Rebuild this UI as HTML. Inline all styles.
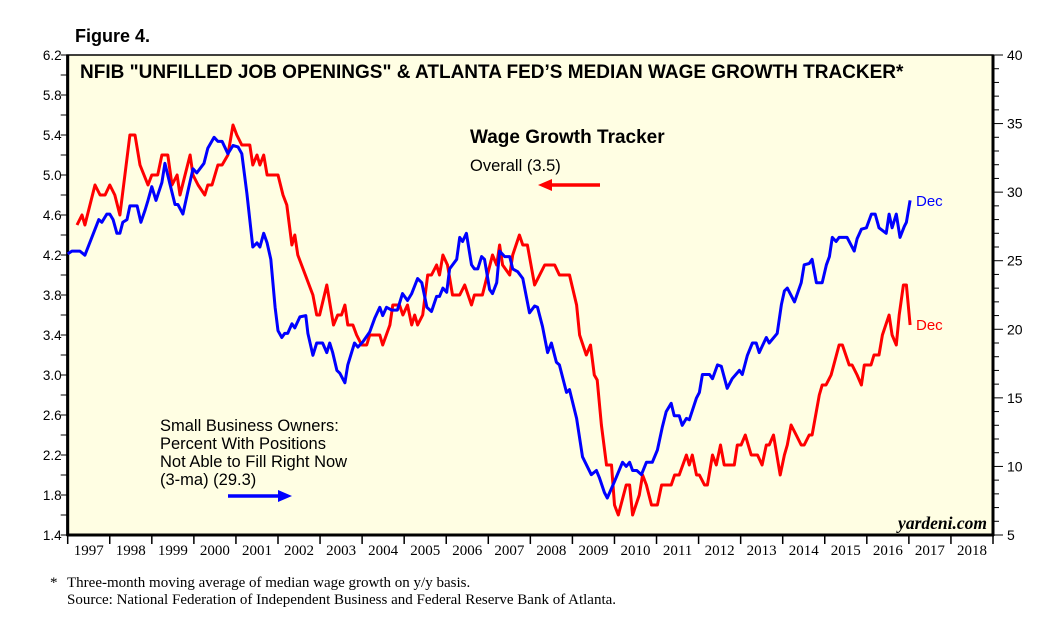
<!DOCTYPE html>
<html><head><meta charset="utf-8"><style>
body{margin:0;background:#fff;}
svg{display:block;}
</style></head><body>
<svg id="chart" width="1049" height="625" xmlns="http://www.w3.org/2000/svg">
<text x="75" y="42" font-family="Liberation Sans, sans-serif" font-weight="bold" font-size="18">Figure 4.</text>
<rect x="67" y="55" width="926" height="480" fill="#fffee3" stroke="#000" stroke-width="1.5"/>
<g id="axes"></g>
<g id="series"></g>
<text x="80" y="78" font-family="Liberation Sans, sans-serif" font-weight="bold" font-size="19">NFIB "UNFILLED JOB OPENINGS" &amp; ATLANTA FED’S MEDIAN WAGE GROWTH TRACKER*</text>
<text x="470" y="143" font-family="Liberation Sans, sans-serif" font-weight="bold" font-size="19">Wage Growth Tracker</text>
<text x="470" y="171" font-family="Liberation Sans, sans-serif" font-size="16.5">Overall (3.5)</text>
<g><line x1="600" y1="185" x2="548" y2="185" stroke="#f00" stroke-width="3.5"/><polygon points="538,185 552,179 552,191" fill="#f00"/></g>
<g font-family="Liberation Sans, sans-serif" font-size="16.5">
<text x="160" y="431">Small Business Owners:</text>
<text x="160" y="449">Percent With Positions</text>
<text x="160" y="467">Not Able to Fill Right Now</text>
<text x="160" y="485">(3-ma) (29.3)</text></g>
<g><line x1="228" y1="496" x2="282" y2="496" stroke="#00f" stroke-width="3.5"/><polygon points="292,496 278,490 278,502" fill="#00f"/></g>
<text x="916" y="206" fill="#00f" font-family="Liberation Sans, sans-serif" font-size="15">Dec</text>
<text x="916" y="330" fill="#f00" font-family="Liberation Sans, sans-serif" font-size="15">Dec</text>
<text x="987" y="529" text-anchor="end" font-family="Liberation Serif, serif" font-style="italic" font-weight="bold" font-size="17.5">yardeni.com</text>
<g font-family="Liberation Serif, serif" font-size="15">
<text x="50" y="587">*</text>
<text x="67" y="587">Three-month moving average of median wage growth on y/y basis.</text>
<text x="67" y="604">Source: National Federation of Independent Business and Federal Reserve Bank of Atlanta.</text></g>
</svg>
<script>
const years=[1997,1998,1999,2000,2001,2002,2003,2004,2005,2006,2007,2008,2009,2010,2011,2012,2013,2014,2015,2016,2017,2018];
const leftTicks=[1.4,1.8,2.2,2.6,3.0,3.4,3.8,4.2,4.6,5.0,5.4,5.8,6.2];
const rightTicks=[5,10,15,20,25,30,35,40];
const wageDates=[1997.22,1997.34,1997.41,1997.65,1997.77,1997.89,1998.00,1998.12,1998.24,1998.48,1998.60,1998.72,1998.91,1999.00,1999.14,1999.24,1999.38,1999.48,1999.60,1999.67,1999.91,1999.98,2000.10,2000.26,2000.33,2000.43,2000.57,2000.67,2000.81,2000.93,2001.02,2001.14,2001.33,2001.40,2001.50,2001.57,2001.66,2001.74,2002.00,2002.12,2002.21,2002.33,2002.40,2002.47,2002.83,2002.92,2002.99,2003.16,2003.32,2003.42,2003.51,2003.59,2003.66,2003.78,2003.87,2003.99,2004.11,2004.18,2004.42,2004.49,2004.66,2004.73,2004.89,2004.97,2005.08,2005.18,2005.25,2005.32,2005.44,2005.56,2005.65,2005.77,2005.84,2005.92,2006.03,2006.15,2006.32,2006.44,2006.60,2006.67,2006.86,2006.98,2007.10,2007.20,2007.27,2007.34,2007.51,2007.58,2007.74,2007.82,2007.93,2008.10,2008.34,2008.58,2008.69,2008.93,2009.10,2009.17,2009.33,2009.43,2009.52,2009.59,2009.69,2009.81,2009.93,2010.00,2010.09,2010.28,2010.36,2010.43,2010.59,2010.67,2010.76,2010.88,2011.02,2011.12,2011.35,2011.43,2011.54,2011.71,2011.78,2011.85,2011.95,2012.02,2012.14,2012.21,2012.33,2012.42,2012.52,2012.61,2012.85,2012.92,2013.01,2013.11,2013.25,2013.40,2013.51,2013.61,2013.68,2013.78,2013.94,2014.04,2014.11,2014.20,2014.32,2014.44,2014.51,2014.63,2014.70,2014.87,2014.94,2015.03,2015.15,2015.34,2015.42,2015.58,2015.65,2015.77,2015.87,2015.94,2016.10,2016.17,2016.29,2016.37,2016.53,2016.60,2016.70,2016.77,2016.87,2016.94,2017.03];
const wageValues=[4.5,4.6,4.5,4.9,4.8,4.8,4.9,4.8,4.6,5.4,5.4,5.1,4.9,5.0,5.0,5.2,5.2,4.9,5.0,4.8,5.2,5.0,4.9,4.8,4.9,4.9,5.1,5.1,5.2,5.5,5.4,5.3,5.3,5.1,5.2,5.1,5.2,5.0,5.0,4.8,4.7,4.3,4.4,4.2,3.8,3.6,3.6,3.9,3.5,3.6,3.6,3.7,3.5,3.5,3.4,3.3,3.3,3.4,3.4,3.3,3.5,3.7,3.7,3.6,3.7,3.5,3.6,3.5,3.6,4.0,4.0,4.1,4.0,4.2,4.1,3.8,3.8,3.9,3.7,3.8,3.8,4.0,4.2,4.1,4.3,4.1,4.0,4.2,4.4,4.3,4.3,3.9,4.1,4.1,4.0,4.0,3.7,3.4,3.2,3.3,3.0,2.95,2.5,2.1,2.1,1.7,1.6,1.9,1.9,1.6,1.8,2.0,1.9,1.7,1.7,1.9,1.9,2.0,2.0,2.2,2.1,2.2,2.0,2.0,1.9,1.9,2.2,2.1,2.3,2.1,2.1,2.3,2.3,2.4,2.2,2.2,2.1,2.3,2.3,2.4,2.0,2.2,2.3,2.5,2.4,2.3,2.3,2.4,2.4,2.8,2.9,2.9,3.0,3.3,3.3,3.1,3.1,3.0,2.9,3.1,3.1,3.2,3.2,3.4,3.6,3.4,3.3,3.6,3.9,3.9,3.5];
const nfibDates=[1997.00,1997.10,1997.29,1997.41,1997.60,1997.74,1997.81,1997.93,1998.00,1998.08,1998.17,1998.24,1998.31,1998.41,1998.48,1998.65,1998.74,1998.84,1998.91,1999.00,1999.10,1999.24,1999.31,1999.43,1999.55,1999.62,1999.74,1999.86,1999.98,2000.07,2000.24,2000.33,2000.48,2000.57,2000.67,2000.81,2000.93,2001.05,2001.14,2001.26,2001.40,2001.50,2001.57,2001.66,2001.74,2001.83,2001.93,2002.00,2002.09,2002.16,2002.23,2002.33,2002.40,2002.52,2002.66,2002.71,2002.83,2002.92,2003.06,2003.16,2003.23,2003.30,2003.40,2003.47,2003.59,2003.66,2003.82,2003.90,2004.02,2004.18,2004.30,2004.42,2004.49,2004.58,2004.70,2004.84,2004.96,2005.08,2005.18,2005.32,2005.42,2005.54,2005.65,2005.77,2005.84,2005.92,2006.01,2006.08,2006.25,2006.32,2006.39,2006.48,2006.60,2006.67,2006.75,2006.84,2006.91,2007.03,2007.10,2007.20,2007.27,2007.39,2007.51,2007.58,2007.70,2007.82,2007.98,2008.10,2008.17,2008.29,2008.41,2008.50,2008.62,2008.69,2008.86,2008.93,2009.10,2009.24,2009.45,2009.57,2009.64,2009.76,2009.83,2010.00,2010.19,2010.28,2010.36,2010.43,2010.53,2010.64,2010.76,2010.90,2011.02,2011.14,2011.23,2011.35,2011.42,2011.54,2011.61,2011.71,2011.78,2011.95,2012.02,2012.09,2012.26,2012.33,2012.45,2012.54,2012.68,2012.80,2012.97,2013.04,2013.16,2013.28,2013.37,2013.44,2013.61,2013.68,2013.87,2013.97,2014.04,2014.11,2014.28,2014.44,2014.51,2014.63,2014.70,2014.80,2014.94,2015.04,2015.11,2015.18,2015.27,2015.34,2015.53,2015.70,2015.77,2015.87,2015.99,2016.11,2016.20,2016.29,2016.46,2016.53,2016.60,2016.70,2016.79,2016.89,2016.94,2017.03];
const nfibValues=[25.5,25.7,25.7,25.4,26.9,28.0,27.8,28.4,28.4,28.0,27.0,27.0,27.8,28.0,29.0,29.0,27.8,28.7,29.4,30.4,29.4,30.7,32.1,30.6,29.1,29.1,28.4,30.1,31.7,31.4,32.1,33.2,34.0,33.7,33.7,32.8,33.4,33.3,32.8,29.9,26.0,26.3,26.0,27.0,26.3,25.1,21.6,19.9,19.4,19.7,19.7,20.4,20.1,20.9,21.0,19.7,18.1,19.0,19.0,18.3,19.0,18.3,17.0,16.8,16.1,17.4,19.0,18.7,19.1,19.8,20.8,21.6,21.0,21.6,21.4,21.4,22.6,22.1,22.6,23.7,23.4,21.6,21.3,22.4,22.4,23.0,22.7,24.4,25.1,26.7,26.4,27.0,24.7,24.4,24.4,25.3,25.1,22.9,22.6,23.4,25.7,25.3,25.3,24.4,24.2,23.7,21.2,21.7,21.6,20.2,18.3,19.0,17.6,17.4,15.4,15.6,13.5,10.7,9.4,9.7,9.2,8.1,7.7,8.9,10.3,10.0,10.3,9.7,9.7,9.4,10.3,10.3,11.2,12.9,14.0,14.6,13.7,13.7,13.0,13.5,13.4,15.0,15.4,16.7,16.7,16.4,17.4,17.3,15.7,16.4,17.0,16.7,18.1,19.0,19.0,18.3,19.4,19.0,19.7,21.8,22.8,23.0,22.0,23.4,24.7,24.8,25.1,23.4,23.4,24.7,25.3,26.7,26.4,26.7,26.7,25.7,26.6,27.3,27.4,28.4,28.4,27.4,27.0,28.4,27.4,28.4,26.7,27.5,27.8,29.4];

const NS='http://www.w3.org/2000/svg';
const X0=67.7,X1=993,Y0=535,Y1=55;
const xs=t=>X0+(t-1997)*(X1-X0)/22;
const yl=v=>Y0-(v-1.4)*(Y0-Y1)/4.8;
const yr=v=>Y0-(v-5)*(Y0-Y1)/35;
function mk(tag,attrs,parent){const e=document.createElementNS(NS,tag);for(const k in attrs)e.setAttribute(k,attrs[k]);parent.appendChild(e);return e;}
const axes=document.getElementById('axes'),series=document.getElementById('series');
let l=mk('line',{x1:X0,y1:Y1,x2:X0,y2:Y0+1,stroke:'#000','stroke-width':3},axes);


l=mk('line',{x1:X1,y1:Y1,x2:X1,y2:Y0+1,stroke:'#000','stroke-width':3},axes);


l=mk('line',{x1:X0-1,y1:Y0,x2:X1+1,y2:Y0,stroke:'#000','stroke-width':3},axes);


for(let i=0;i<=24;i++){const v=1.4+i*0.2,y=yl(v);mk('line',{x1:X0-7,y1:y,x2:X0,y2:y,stroke:'#000','stroke-width':1},axes);}
leftTicks.forEach(v=>{const t=mk('text',{x:X0-6,y:yl(v)+5,'text-anchor':'end','font-family':'Liberation Sans, sans-serif','font-size':13.5},axes);t.textContent=v.toFixed(1);

});
for(let v=5;v<=40;v++){const y=yr(v);mk('line',{x1:X1,y1:y,x2:X1+(v%5===0?10:6),y2:y,stroke:'#000','stroke-width':1},axes);}
rightTicks.forEach(v=>{const t=mk('text',{x:X1+14,y:yr(v)+5,'font-family':'Liberation Sans, sans-serif','font-size':14},axes);t.textContent=v;

});
years.forEach(yv=>{const x=xs(yv);mk('line',{x1:x,y1:Y0,x2:x,y2:Y0+9,stroke:'#000','stroke-width':1.5},axes);
const t=mk('text',{x:xs(yv+0.5),y:Y0+20,'text-anchor':'middle','font-family':'Liberation Serif, serif','font-size':15},axes);t.textContent=yv;

});
mk('line',{x1:X1,y1:Y0,x2:X1,y2:Y0+9,stroke:'#000','stroke-width':1.5},axes);
function draw(d,v,yf,col,name){const p=mk('polyline',{points:d.map((t,i)=>xs(t).toFixed(1)+','+yf(v[i]).toFixed(1)).join(' '),fill:'none',stroke:col,'stroke-width':3,'stroke-linejoin':'round'},series);

}
draw(wageDates,wageValues,yl,'#f00','wage-growth-line');
draw(nfibDates,nfibValues,yr,'#00f','nfib-unfilled-line');
</script>
</body></html>
